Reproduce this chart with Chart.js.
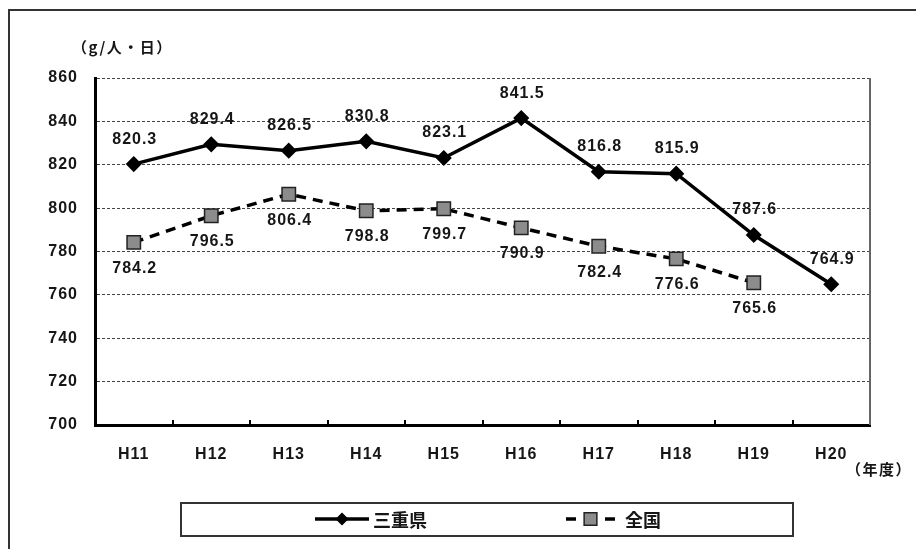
<!DOCTYPE html>
<html lang="ja">
<head>
<meta charset="utf-8">
<script src="https://cdn.jsdelivr.net/npm/chart.js@4.4.1/dist/chart.umd.min.js"></script>
<style>
  html, body { margin: 0; padding: 0; background: #fff; }
  #wrap { width: 916px; height: 549px; position: relative; }
</style>
</head>
<body>
<div id="wrap"><canvas id="wasteChart" width="916" height="549"></canvas></div>
<script>
// 年度
const years = ["H11", "H12", "H13", "H14", "H15", "H16", "H17", "H18", "H19", "H20"];
// 三重県 (g/人・日)
const mieValues = [820.3, 829.4, 826.5, 830.8, 823.1, 841.5, 816.8, 815.9, 787.6, 764.9];
// 全国 (H20 はデータなし)
const nationalValues = [784.2, 796.5, 806.4, 798.8, 799.7, 790.9, 782.4, 776.6, 765.6, null];
const seriesNames = ["三重県", "全国"];
const yMin = 700, yMax = 860, yStep = 20;

const NUM_FONT = "'Liberation Sans', Arial, sans-serif";
const JP_FONT = "'Noto Sans CJK JP', 'Liberation Sans', sans-serif";
const TEXT = "#161616";

// white background + outer frame
const framePlugin = {
  id: "frame",
  beforeDraw(chart) {
    const ctx = chart.ctx;
    ctx.save();
    ctx.fillStyle = "#fff";
    ctx.fillRect(0, 0, chart.width, chart.height);
    ctx.strokeStyle = "#333";
    ctx.lineWidth = 2;
    ctx.beginPath();
    ctx.moveTo(9, chart.height);
    ctx.lineTo(9, 10);
    ctx.lineTo(chart.width, 10);
    ctx.stroke();
    ctx.restore();
    ctx.letterSpacing = "1px";
  },
  afterDraw(chart) {
    const ctx = chart.ctx;
    const area = chart.chartArea;
    const x = chart.scales.x;
    ctx.save();
    // right border of the plot
    ctx.strokeStyle = "#666";
    ctx.lineWidth = 2;
    ctx.beginPath();
    ctx.moveTo(area.right, area.top);
    ctx.lineTo(area.right, area.bottom);
    ctx.stroke();
    // small inside ticks between categories
    ctx.strokeStyle = "#000";
    ctx.lineWidth = 2;
    for (let i = 1; i < years.length; i++) {
      const px = Math.round((x.getPixelForValue(i - 1) + x.getPixelForValue(i)) / 2);
      ctx.beginPath();
      ctx.moveTo(px, area.bottom);
      ctx.lineTo(px, area.bottom - 5);
      ctx.stroke();
    }
    // axis units
    ctx.fillStyle = TEXT;
    ctx.font = "bold 15px " + JP_FONT;
    ctx.textBaseline = "middle";
    ctx.textAlign = "left";
    ctx.letterSpacing = "1.5px";
    ctx.fillText("（g/人・日）", 72, 47);
    ctx.fillText("（年度）", 846, 469);
    ctx.restore();
  }
};

// value labels: 三重県 above, 全国 below
const valueLabelPlugin = {
  id: "valueLabels",
  afterDatasetsDraw(chart) {
    const ctx = chart.ctx;
    ctx.save();
    ctx.font = "bold 16px " + NUM_FONT;
    ctx.fillStyle = TEXT;
    ctx.textAlign = "center";
    ctx.textBaseline = "middle";
    ctx.letterSpacing = "1px";
    chart.data.datasets.forEach((ds, di) => {
      const meta = chart.getDatasetMeta(di);
      meta.data.forEach((pt, i) => {
        const v = ds.data[i];
        if (v == null) return;
        const dy = di === 0 ? -25 : 26;
        ctx.fillText(v.toFixed(1), pt.x + 1, pt.y + dy);
      });
    });
    ctx.restore();
  }
};

// boxed legend at the bottom
const boxLegendPlugin = {
  id: "boxLegend",
  afterDraw(chart) {
    const ctx = chart.ctx;
    ctx.save();
    ctx.strokeStyle = "#333";
    ctx.lineWidth = 2;
    ctx.strokeRect(181, 503, 612, 33);
    const cy = 519;
    const items = [
      { x0: 315, x1: 369, tx: 373, r: 5.5, dash: [] },
      { x0: 566, x1: 615, tx: 625, r: 9, dash: [10, 29] }
    ];
    chart.data.datasets.forEach((ds, di) => {
      const it = items[di];
      ctx.strokeStyle = ds.borderColor;
      ctx.lineWidth = ds.borderWidth;
      ctx.setLineDash(it.dash);
      ctx.beginPath();
      ctx.moveTo(it.x0, cy);
      ctx.lineTo(it.x1, cy);
      ctx.stroke();
      ctx.setLineDash([]);
      ctx.fillStyle = ds.pointBackgroundColor;
      ctx.strokeStyle = ds.pointBorderColor;
      ctx.lineWidth = ds.pointBorderWidth;
      Chart.helpers.drawPoint(ctx, {
        pointStyle: ds.pointStyle,
        radius: it.r,
        rotation: 0,
        borderWidth: ds.pointBorderWidth
      }, (it.x0 + it.x1) / 2, cy);
      ctx.fillStyle = TEXT;
      ctx.font = "bold 18px " + JP_FONT;
      ctx.textAlign = "left";
      ctx.textBaseline = "middle";
      ctx.letterSpacing = "0px";
      ctx.fillText(ds.label, it.tx, cy + 1);
    });
    ctx.restore();
  }
};

new Chart(document.getElementById("wasteChart"), {
  type: "line",
  data: {
    labels: years,
    datasets: [
      {
        label: seriesNames[0],
        data: mieValues,
        borderColor: "#000",
        borderWidth: 3.5,
        tension: 0,
        pointStyle: "rectRot",
        pointRadius: 7,
        pointBackgroundColor: "#000",
        pointBorderColor: "#000",
        pointBorderWidth: 1.5
      },
      {
        label: seriesNames[1],
        data: nationalValues,
        borderColor: "#000",
        borderWidth: 3.5,
        borderDash: [10, 7],
        tension: 0,
        pointStyle: "rect",
        pointRadius: 9.5,
        pointBackgroundColor: "#8c8c8c",
        pointBorderColor: "#222",
        pointBorderWidth: 1.5
      }
    ]
  },
  options: {
    responsive: false,
    animation: false,
    events: [],
    layout: { padding: { left: 0, right: 46, top: 78, bottom: 0 } },
    plugins: {
      legend: { display: false },
      tooltip: { enabled: false }
    },
    scales: {
      x: {
        offset: true,
        grid: { display: false, drawTicks: false },
        border: { display: true, color: "#000", width: 3 },
        ticks: {
          color: TEXT,
          padding: 20,
          maxRotation: 0,
          font: { family: NUM_FONT, size: 16, weight: "bold" }
        },
        afterFit(scale) { scale.height = 124; }
      },
      y: {
        min: yMin,
        max: yMax,
        grid: { color: "#444", lineWidth: 1, drawTicks: false },
        border: { display: true, color: "#000", width: 3, dash: [3, 2] },
        ticks: {
          stepSize: yStep,
          color: TEXT,
          padding: 17,
          font: { family: NUM_FONT, size: 16, weight: "bold" }
        },
        afterFit(scale) { scale.width = 95; }
      }
    }
  },
  plugins: [framePlugin, valueLabelPlugin, boxLegendPlugin]
});
</script>
</body>
</html>
